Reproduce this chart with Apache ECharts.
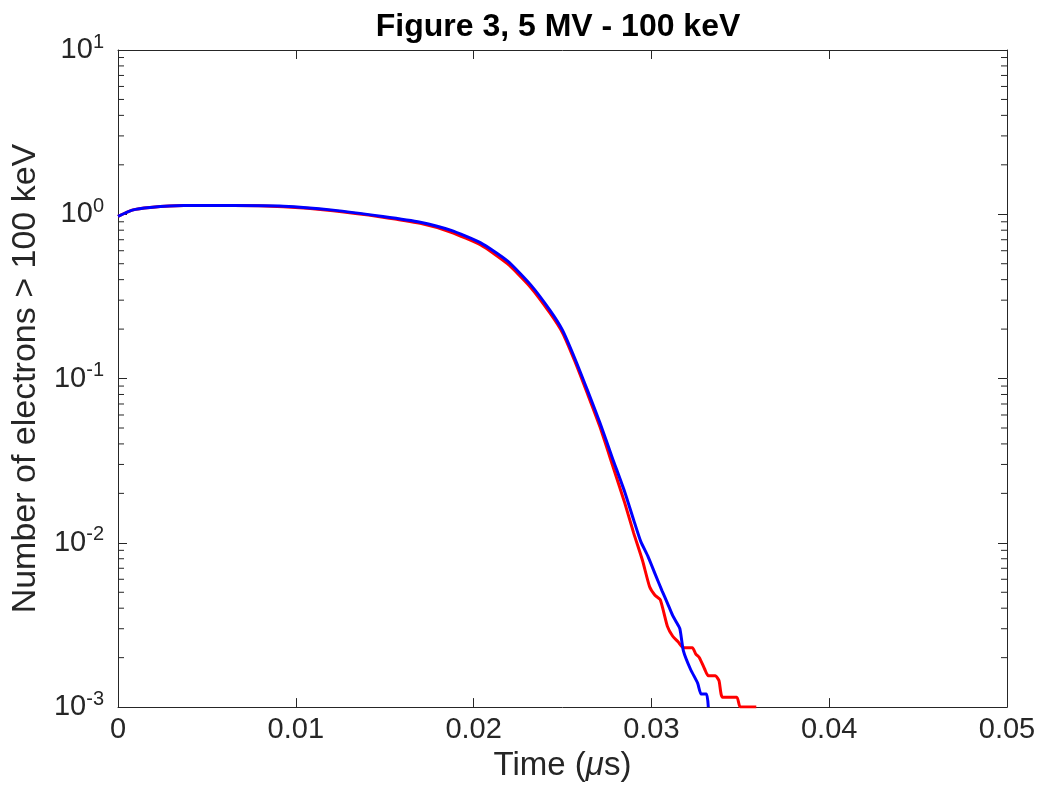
<!DOCTYPE html>
<html>
<head>
<meta charset="utf-8">
<title>Figure 3, 5 MV - 100 keV</title>
<script src="https://cdn.jsdelivr.net/npm/echarts@6/dist/echarts.min.js"></script>
<style>
html, body { margin: 0; padding: 0; background: #fff; }
#chart { width: 1043px; height: 787px; }
</style>
</head>
<body>
<div id="chart"></div>
<script>
// axis settings
const xTicks = [0, 0.01, 0.02, 0.03, 0.04, 0.05];
const yDecades = [0.001, 0.01, 0.1, 1, 10];

// blue curve
const timeBlue = [0, 0.0008, 0.0018, 0.0037, 0.0065, 0.0093, 0.0121, 0.0149, 0.0170, 0.0187,
  0.0204, 0.0219, 0.0232, 0.0243, 0.0250, 0.0257, 0.0264, 0.0271, 0.0278, 0.0285, 0.029,
  0.0294, 0.0298, 0.0302, 0.0306, 0.0309, 0.0312, 0.0314, 0.0316, 0.0318, 0.0322, 0.0326,
  0.0328, 0.0331, 0.0332];
const valueBlue = [0.97, 1.06, 1.10, 1.13, 1.13, 1.12, 1.06, 0.97, 0.895, 0.80,
  0.67, 0.52, 0.373, 0.26, 0.197, 0.132, 0.085, 0.054, 0.033, 0.0204, 0.0138,
  0.0102, 0.0083, 0.0065, 0.0051, 0.0043, 0.0036, 0.0033, 0.0030, 0.0022, 0.0017, 0.0014,
  0.0012, 0.0012, 0.001];

// red curve
const timeRed = [0, 0.0008, 0.0018, 0.0037, 0.0065, 0.0093, 0.0121, 0.0149, 0.0170, 0.0187,
  0.0204, 0.0219, 0.0232, 0.0243, 0.0250, 0.0257, 0.0264, 0.0271, 0.0278, 0.0285, 0.0290,
  0.0295, 0.0299, 0.0302, 0.0305, 0.0309, 0.0312, 0.0315, 0.0318, 0.0323, 0.0325, 0.0327,
  0.0330, 0.0332, 0.0336, 0.0338, 0.0340, 0.0348, 0.0350, 0.0359];
const valueRed = [0.97, 1.06, 1.10, 1.13, 1.13, 1.11, 1.05, 0.96, 0.88, 0.78,
  0.65, 0.50, 0.36, 0.25, 0.19, 0.127, 0.081, 0.051, 0.030, 0.0175, 0.0115,
  0.0078, 0.0054, 0.0048, 0.0045, 0.0031, 0.0027, 0.0025, 0.0023, 0.0023, 0.0021, 0.0020,
  0.0017, 0.00155, 0.00155, 0.00145, 0.00115, 0.00115, 0.001, 0.001];

const axisColor = '#262626';
const font = 'Liberation Sans, Arial, Helvetica, sans-serif';

// minor ticks of the log axis: 2..9 in each decade
const minorTicks = [];
yDecades.slice(0, -1).forEach(d => {
  for (let m = 2; m <= 9; m++) minorTicks.push([0, m * d]);
});

const chart = echarts.init(document.getElementById('chart'));

function logLabel(v) {
  const e = Math.round(Math.log10(v));
  return '{b|10}{s|' + e + '}';
}

function renderMinorTick(params, api) {
  const v = api.value(1);
  const l = api.coord([xTicks[0], v]);
  const r = api.coord([xTicks[xTicks.length - 1], v]);
  const style = { stroke: axisColor, lineWidth: 1 };
  return {
    type: 'group',
    children: [
      { type: 'line', shape: { x1: l[0], y1: l[1], x2: l[0] + 6, y2: l[1] }, style: style },
      { type: 'line', shape: { x1: r[0] - 6, y1: r[1], x2: r[0], y2: r[1] }, style: style }
    ]
  };
}

const option = {
  animation: false,
  backgroundColor: '#fff',
  title: {
    text: 'Figure 3, 5 MV - 100 keV',
    left: 553,
    top: 6,
    textAlign: 'center',
    textStyle: { fontFamily: font, fontSize: 32, fontWeight: 'bold', color: '#000' }
  },
  grid: { left: 118, right: 36, top: 50, bottom: 73 },
  xAxis: [{
    type: 'value',
    min: 0, max: 0.05, interval: 0.01,
    name: 'Time ({i|μ}s)',
    nameLocation: 'middle',
    nameGap: 37,
    nameTextStyle: {
      fontFamily: font, fontSize: 33, color: axisColor,
      rich: { i: { fontFamily: font, fontSize: 33, fontStyle: 'italic', color: axisColor } }
    },
    axisLine: { show: true, onZero: false, lineStyle: { color: axisColor, width: 1 } },
    axisTick: { show: true, inside: true, length: 9, lineStyle: { color: axisColor } },
    axisLabel: { fontFamily: font, fontSize: 29, color: axisColor, margin: 8 },
    splitLine: { show: false }
  }, {
    type: 'value',
    position: 'top',
    min: 0, max: 0.05, interval: 0.01,
    axisLine: { show: true, onZero: false, lineStyle: { color: axisColor, width: 1 } },
    axisTick: { show: true, inside: true, length: 9, lineStyle: { color: axisColor } },
    axisLabel: { show: false },
    splitLine: { show: false }
  }],
  yAxis: [{
    type: 'log',
    logBase: 10,
    min: yDecades[0], max: yDecades[yDecades.length - 1],
    name: 'Number of electrons > 100 keV',
    nameLocation: 'middle',
    nameGap: 66,
    nameTextStyle: { fontFamily: font, fontSize: 34, color: axisColor },
    axisLine: { show: true, onZero: false, lineStyle: { color: axisColor, width: 1 } },
    axisTick: { show: true, inside: true, length: 9, lineStyle: { color: axisColor } },
    axisLabel: {
      formatter: logLabel,
      margin: 14,
      rich: {
        b: { fontFamily: font, fontSize: 29, color: axisColor },
        s: { fontFamily: font, fontSize: 20, color: axisColor, verticalAlign: 'top', padding: [0, 0, 16, 0] }
      }
    },
    splitLine: { show: false }
  }, {
    type: 'log',
    logBase: 10,
    position: 'right',
    min: yDecades[0], max: yDecades[yDecades.length - 1],
    axisLine: { show: true, onZero: false, lineStyle: { color: axisColor, width: 1 } },
    axisTick: { show: true, inside: true, length: 9, lineStyle: { color: axisColor } },
    axisLabel: { show: false },
    splitLine: { show: false }
  }],
  series: [{
    type: 'custom',
    silent: true,
    clip: false,
    z: 1,
    renderItem: renderMinorTick,
    data: minorTicks
  }, {
    type: 'line',
    name: 'red',
    showSymbol: false,
    smooth: 0.2,
    clip: true,
    z: 3,
    lineStyle: { color: '#ff0000', width: 3 },
    itemStyle: { color: '#ff0000' },
    data: timeRed.map((t, i) => [t, valueRed[i]])
  }, {
    type: 'line',
    name: 'blue',
    showSymbol: false,
    smooth: 0.2,
    clip: true,
    z: 4,
    lineStyle: { color: '#0000ff', width: 3 },
    itemStyle: { color: '#0000ff' },
    data: timeBlue.map((t, i) => [t, valueBlue[i]])
  }]
};

chart.setOption(option);
</script>
</body>
</html>
